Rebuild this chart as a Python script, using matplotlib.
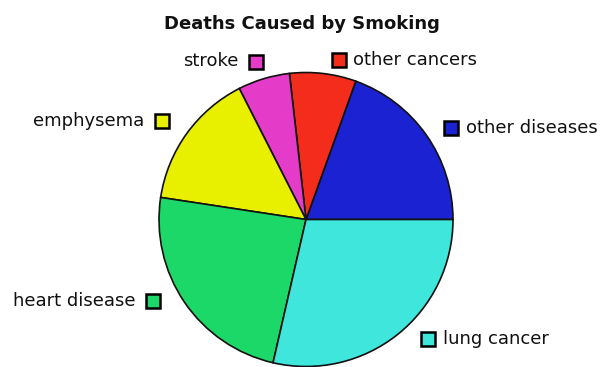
import matplotlib
matplotlib.use("Agg")
import matplotlib.pyplot as plt

FIG_SIZE = (6.0, 3.67)
DPI = 100
FONT = "DejaVu Sans"

causes = ["other diseases", "other cancers", "stroke",
          "emphysema", "heart disease", "lung cancer"]
percent = [19.5, 7.3, 5.7, 15.1, 23.8, 28.6]
colors = ["#1a22d2", "#f42c1c", "#e43cc8", "#e8f000", "#1cd868", "#3ee6dc"]

# label anchor (square centre, px from top-left) and which side the text sits
label_pos = {
    "other diseases": (451.5, 128, "right"),
    "other cancers": (338.5, 60, "right"),
    "stroke": (255.5, 61.5, "left"),
    "emphysema": (161.5, 121, "left"),
    "heart disease": (152.5, 301, "left"),
    "lung cancer": (428, 338.5, "right"),
}

W, H = FIG_SIZE[0] * DPI, FIG_SIZE[1] * DPI

fig = plt.figure(figsize=FIG_SIZE, dpi=DPI)
cx, cy, r = 306, 219.5, 147
ax = fig.add_axes([(cx - r) / W, (H - cy - r) / H, 2 * r / W, 2 * r / H])
ax.pie(percent, colors=colors, startangle=0, counterclock=True,
       wedgeprops={"edgecolor": "#111111", "linewidth": 1.2})
ax.set_xlim(-1, 1)
ax.set_ylim(-1, 1)
ax.set_aspect("equal")
ax.axis("off")
for p in ax.patches:
    p.set_clip_on(False)

fig.text(302 / W, 1 - 24 / H, "Deaths Caused by Smoking", ha="center",
         va="center", fontsize=13, fontweight="bold", family=FONT,
         color="#111111")

for cause, color in zip(causes, colors):
    x, y, side = label_pos[cause]
    fx, fy = x / W, 1 - y / H
    fig.add_artist(plt.Line2D([fx], [fy], marker="s", markersize=9.5,
                              markerfacecolor=color, markeredgecolor="black",
                              markeredgewidth=1.8, linestyle="none",
                              transform=fig.transFigure))
    if side == "right":
        fig.text((x + 15) / W, fy, cause, ha="left", va="center",
                 fontsize=13, family=FONT, color="#111111")
    else:
        fig.text((x - 17) / W, fy, cause, ha="right", va="center",
                 fontsize=13, family=FONT, color="#111111")

fig.savefig("out.png", dpi=DPI)
